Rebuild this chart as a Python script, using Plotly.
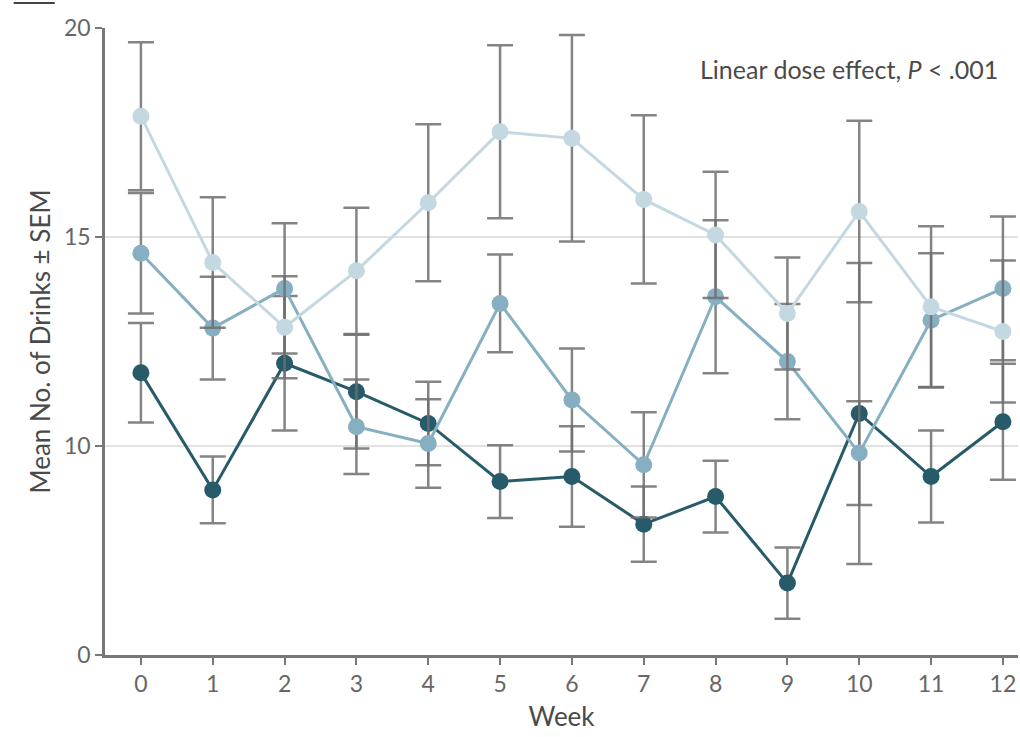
import plotly.graph_objects as go

# Weekly mean drinks (± SEM) for three dose groups
weeks = list(range(13))

low_mean = [11.75, 8.95, 11.98, 11.30, 10.54, 9.15, 9.27, 8.13, 8.79, 6.72, 10.78, 9.27, 10.58]
low_sem = [1.19, 0.80, 1.61, 1.36, 1.00, 0.87, 1.20, 0.90, 0.86, 0.85, 3.60, 1.10, 1.39]

mid_mean = [14.61, 12.82, 13.77, 10.46, 10.06, 13.41, 11.10, 9.55, 13.57, 12.02, 9.83, 13.01, 13.77]
mid_sem = [1.44, 1.23, 1.56, 1.13, 1.06, 1.17, 1.23, 1.26, 1.83, 1.38, 1.24, 1.60, 1.72]

high_mean = [17.89, 14.39, 12.84, 14.19, 15.82, 17.52, 17.36, 15.90, 15.05, 13.17, 15.61, 13.33, 12.74]
high_sem = [1.77, 1.56, 1.22, 1.51, 1.88, 2.07, 2.47, 2.01, 1.51, 1.34, 2.17, 1.93, 1.70]

y_tickvals = [5, 10, 15, 20]
y_ticktext = ["0", "10", "15", "20"]

series = [
    ("Low", low_mean, low_sem, "#275b6a"),
    ("Mid", mid_mean, mid_sem, "#86b0c1"),
    ("High", high_mean, high_sem, "#c3d8e1"),
]

FONT = "Lato, Open Sans, sans-serif"
TICK_COLOR = "#666666"
TITLE_COLOR = "#4a4a4a"

fig = go.Figure()
for name, mean, sem, color in series:
    fig.add_trace(go.Scatter(
        x=weeks, y=mean, name=name, mode="lines+markers",
        line=dict(color=color, width=3),
        marker=dict(color=color, size=17),
        error_y=dict(type="data", array=sem, visible=True,
                     color="rgba(110,110,110,0.85)", thickness=2.5, width=13),
        showlegend=False,
    ))

fig.add_annotation(
    x=0.98, y=0.935, xref="paper", yref="paper", xanchor="right", yanchor="middle",
    text="Linear dose effect, <i>P</i> < .001", showarrow=False,
    font=dict(family=FONT, size=25, color=TITLE_COLOR),
)

# short rule above the plot, top left
fig.add_shape(type="line", xref="paper", yref="paper",
              x0=-0.10, x1=-0.055, y0=1.04, y1=1.04,
              line=dict(color="#444", width=2))

fig.update_layout(
    width=1020, height=737,
    margin=dict(l=105, r=2, t=28, b=82),
    plot_bgcolor="white", paper_bgcolor="white",
    font=dict(family=FONT, size=22, color=TICK_COLOR),
    xaxis=dict(
        range=[-0.5, 12.21], tickvals=weeks, ticks="outside", ticklen=7,
        tickwidth=2, tickcolor="#777", showline=True, linecolor="#777", linewidth=2.5,
        showgrid=False, zeroline=False,
        title=dict(text="Week", font=dict(size=26, color=TITLE_COLOR), standoff=12),
        tickfont=dict(size=23, color=TICK_COLOR),
    ),
    yaxis=dict(
        range=[5, 20], tickvals=y_tickvals, ticktext=y_ticktext, ticks="outside",
        ticklen=7, tickwidth=2, tickcolor="#777", showline=True, linecolor="#777",
        linewidth=2.5, showgrid=True, gridcolor="#e2e2e2", gridwidth=1.5, zeroline=False,
        title=dict(text="Mean No. of Drinks ± SEM", font=dict(size=26, color=TITLE_COLOR), standoff=6),
        tickfont=dict(size=23, color=TICK_COLOR),
    ),
)

fig.write_html("out.html")
